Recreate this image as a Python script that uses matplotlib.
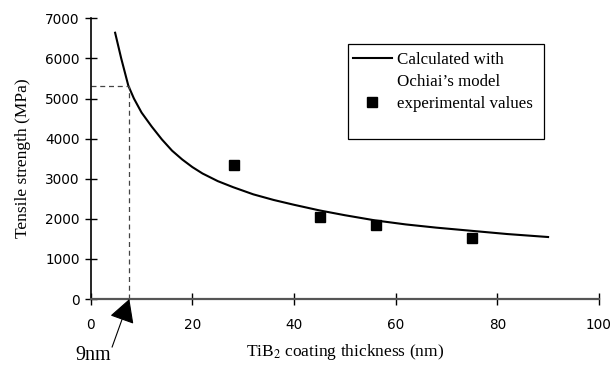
"""
Tensile strength vs TiB2 coating thickness
"""

import matplotlib
matplotlib.use('Agg')
import matplotlib.pyplot as plt
from matplotlib.lines import Line2D
from matplotlib.patches import Rectangle

# Ochiai's model curve
model_x = [4.8, 6.0, 7.4, 8.5, 10, 12, 14, 16, 18, 20, 22, 25, 28, 32, 36, 40,
           45, 50, 56, 62, 68, 75, 82, 90]
model_y = [6640, 6000, 5320, 5000, 4650, 4300, 3980, 3700, 3480, 3290, 3130, 2940,
           2790, 2610, 2470, 2350, 2210, 2090, 1960, 1860, 1780, 1700, 1620, 1546]

# experimental values
exp_x = [28.1, 45.1, 56.1, 75.0]
exp_y = [3340, 2040, 1845, 1520]

# 9 nm marker
mark_x = 7.6
mark_y = 5320

xticks = [0, 20, 40, 60, 80, 100]
yticks = [0, 1000, 2000, 3000, 4000, 5000, 6000, 7000]


def main():
    plt.rcParams['font.family'] = ['Liberation Serif', 'DejaVu Serif']
    plt.rcParams['mathtext.fontset'] = 'stix'

    fig = plt.figure(figsize=(6.13, 3.66), dpi=100)
    ax = fig.add_axes([0.148, 0.183, 0.829, 0.767])

    line, = ax.plot(model_x, model_y, color='black', lw=1.5)
    pts, = ax.plot(exp_x, exp_y, 's', color='black', ms=7, ls='none')

    # dashed guide lines for the 9 nm point
    ax.plot([0, mark_x], [mark_y, mark_y], '--', color='#444444', lw=0.9, dashes=(4, 3))
    ax.plot([mark_x, mark_x], [0, mark_y], '--', color='#444444', lw=0.9, dashes=(4, 3))

    ax.set_xlim(0, 100)
    ax.set_ylim(0, 7000)
    ax.set_xticks(xticks)
    ax.set_yticks(yticks)
    ax.tick_params(direction='inout', length=8, width=1)
    ax.tick_params(axis='x', pad=10)
    ax.tick_params(axis='y', pad=4)
    for lab in ax.get_xticklabels() + ax.get_yticklabels():
        lab.set_fontfamily('DejaVu Sans')
        lab.set_fontsize(9.8)

    for s in ['top', 'right']:
        ax.spines[s].set_visible(False)
    ax.spines['bottom'].set_color('#555555')
    ax.spines['bottom'].set_linewidth(1.6)
    ax.spines['left'].set_linewidth(1.2)

    ax.set_xlabel('TiB$_2$ coating thickness (nm)', fontsize=12.5, labelpad=7)
    ax.set_ylabel('Tensile strength (MPa)', fontsize=12.5, labelpad=10)

    # arrow pointing at 9 nm
    ax.annotate('', xy=(mark_x, 0), xytext=(4.2, -1200),
                arrowprops=dict(arrowstyle='-|>,head_length=1.45,head_width=0.8',
                                mutation_scale=10, color='black', lw=0.8,
                                shrinkA=0, shrinkB=0),
                annotation_clip=False)
    ax.text(0.5, -1420, '9nm', fontsize=14.5, ha='center', va='center', clip_on=False)

    # legend box
    ax.add_patch(Rectangle((0.506, 0.570), 0.386, 0.338, transform=ax.transAxes,
                           fill=False, edgecolor='black', lw=0.9, zorder=5))
    blank = Line2D([], [], color='none')
    ax.legend([line, blank, pts],
              ['Calculated with', 'Ochiai\u2019s model', 'experimental values'],
              loc='upper left', bbox_to_anchor=(0.506, 0.897), frameon=False,
              fontsize=12.2, handlelength=2.3, handletextpad=0.3,
              labelspacing=0.35, borderpad=0.3, borderaxespad=0)

    fig.savefig('out.png', dpi=100)


if __name__ == '__main__':
    main()
